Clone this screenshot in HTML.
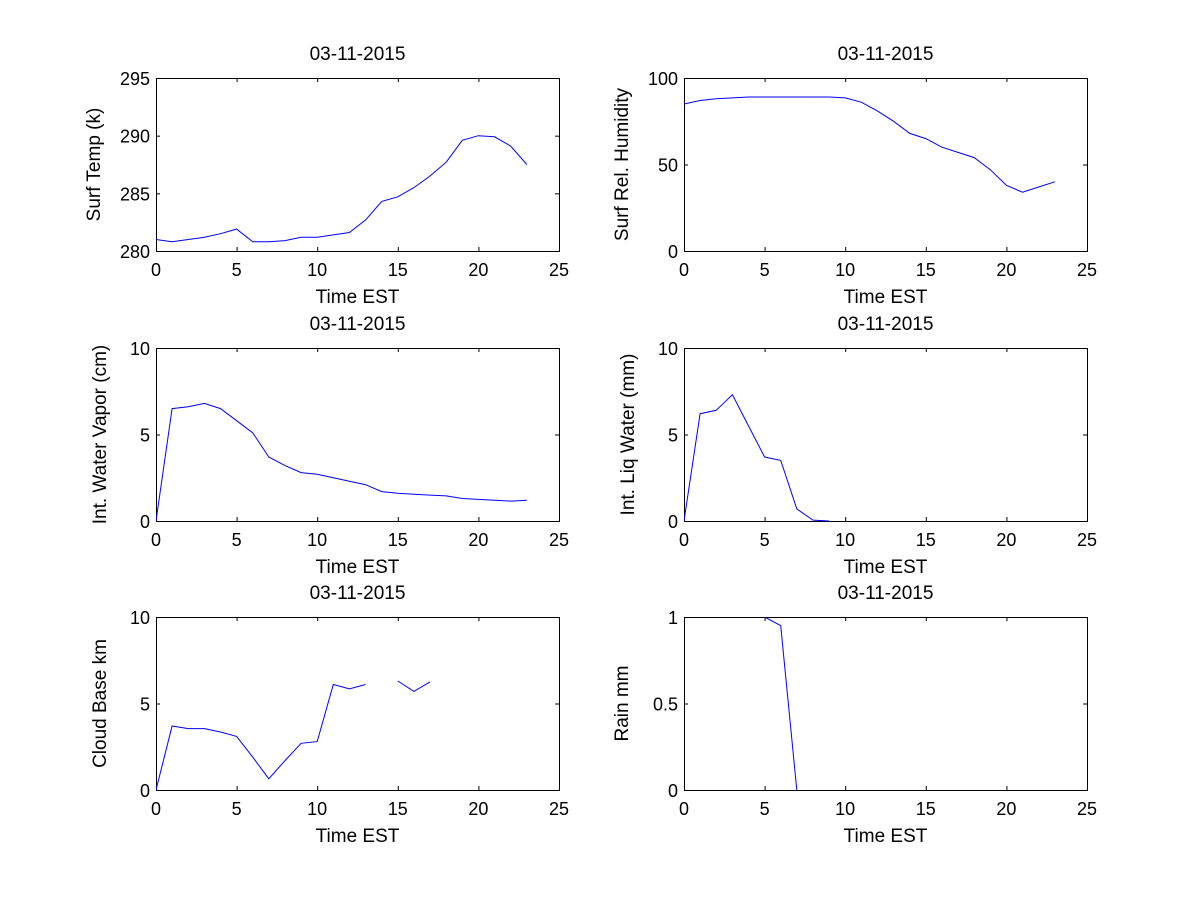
<!DOCTYPE html>
<html><head><meta charset="utf-8"><style>
html,body{margin:0;padding:0;background:#fff;}
svg text{font-family:"Liberation Sans",Arial,sans-serif;fill:#000;}
</style></head><body>
<svg id="fig" width="1200" height="900" xmlns="http://www.w3.org/2000/svg"></svg>
<script>
const hours = [0,1,2,3,4,5,6,7,8,9,10,11,12,13,14,15,16,17,18,19,20,21,22,23];
const surfTemp = [281,280.8,281,281.2,281.5,281.9,280.8,280.8,280.9,281.2,281.2,281.4,281.6,282.7,284.3,284.7,285.5,286.5,287.7,289.6,290,289.9,289.1,287.5];
const relHum = [85,87,88,88.5,89,89,89,89,89,89,88.5,86,81,75,68,65,60,57,54,47,38,34,37,40];
const waterVapor = [0,6.5,6.6,6.8,6.5,5.8,5.1,3.7,3.2,2.8,2.7,2.5,2.3,2.1,1.7,1.6,1.55,1.5,1.45,1.3,1.25,1.2,1.15,1.2];
const liqWater = [0,6.2,6.4,7.3,5.5,3.7,3.5,0.7,0.05,0,null,null,null,null,null,null,null,null,null,null,null,null,null,null];
const cloudBase = [0,3.7,3.55,3.55,3.35,3.1,1.9,0.65,1.7,2.7,2.8,6.1,5.85,6.1,null,6.3,5.7,6.25,null,null,null,null,null,null];
const rain = [null,null,null,null,null,1,0.95,0,null,null,null,null,null,null,null,null,null,null,null,null,null,null,null,null];
const xTicks = [0,5,10,15,20,25];
const titleText = "03-11-2015";

const panels = [
 {name:'surf-temp',x0:156,y0:78,ylab:'Surf Temp (k)',ymin:280,ymax:295,yt:[280,285,290,295],data:surfTemp},
 {name:'surf-rel-humidity',x0:684,y0:78,ylab:'Surf Rel. Humidity',ymin:0,ymax:100,yt:[0,50,100],data:relHum},
 {name:'int-water-vapor',x0:156,y0:348,ylab:'Int. Water Vapor (cm)',ymin:0,ymax:10,yt:[0,5,10],data:waterVapor},
 {name:'int-liq-water',x0:684,y0:348,ylab:'Int. Liq Water (mm)',ymin:0,ymax:10,yt:[0,5,10],data:liqWater},
 {name:'cloud-base',x0:156,y0:617,ylab:'Cloud Base km',ymin:0,ymax:10,yt:[0,5,10],data:cloudBase},
 {name:'rain',x0:684,y0:617,ylab:'Rain mm',ymin:0,ymax:1,yt:[0,0.5,1],data:rain}
];
const W=403,H=173;
const svg=document.getElementById('fig');
const NS='http://www.w3.org/2000/svg';
function mk(tag,attrs,parent){const e=document.createElementNS(NS,tag);for(const k in attrs)e.setAttribute(k,attrs[k]);parent.appendChild(e);return e;}
panels.forEach(p=>{
  const g=mk('g',{},svg);
  
  
  const sx=v=>p.x0+v/25*W;
  const sy=v=>p.y0+H-(v-p.ymin)/(p.ymax-p.ymin)*H;
  const clip=mk('clipPath',{id:'c-'+p.name},g);
  mk('rect',{x:p.x0,y:p.y0,width:W,height:H+1},clip);
  const box=mk('rect',{x:p.x0+0.5,y:p.y0+0.5,width:W,height:H,fill:'#fff',stroke:'#000','stroke-width':1},g);
  
  
  xTicks.forEach(t=>{
    const x=sx(t)+0.5;
    mk('line',{x1:x,x2:x,y1:p.y0+H,y2:p.y0+H-4,stroke:'#000'},g);
    mk('line',{x1:x,x2:x,y1:p.y0,y2:p.y0+4,stroke:'#000'},g);
    const tx=mk('text',{x:sx(t),y:p.y0+H+25,'font-size':18,'text-anchor':'middle'},g);
    tx.textContent=t;
    
    
  });
  p.yt.forEach(t=>{
    const y=sy(t)+0.5;
    mk('line',{x1:p.x0,x2:p.x0+4,y1:y,y2:y,stroke:'#000'},g);
    mk('line',{x1:p.x0+W-4,x2:p.x0+W,y1:y,y2:y,stroke:'#000'},g);
    const ty=mk('text',{x:p.x0-6,y:sy(t)+7,'font-size':18,'text-anchor':'end'},g);
    ty.textContent=t;
    
    
  });
  let d='',pen=false;
  p.data.forEach((v,i)=>{
    if(v===null){pen=false;return;}
    d+=(pen?'L':'M')+sx(hours[i]).toFixed(1)+' '+sy(v).toFixed(1)+' ';pen=true;
  });
  const line=mk('path',{d:d,fill:'none',stroke:'#0000ff','stroke-width':1,'clip-path':'url(#c-'+p.name+')'},g);
  
  
  const ti=mk('text',{x:p.x0+W/2,y:p.y0-18,'font-size':19,'text-anchor':'middle'},g);
  ti.textContent=titleText;
  
  
  const xl=mk('text',{x:p.x0+W/2,y:p.y0+H+52,'font-size':19,'text-anchor':'middle'},g);
  xl.textContent='Time EST';
  
  
  const yx=p.x0-(p.yt.some(t=>String(t).length>=3)?44:38)-12;
  const yl=mk('text',{x:yx,y:p.y0+H/2,'font-size':19,'text-anchor':'middle',transform:'rotate(-90 '+yx+' '+(p.y0+H/2)+')'},g);
  yl.textContent=p.ylab;
  
  
});
</script>
</body></html>
